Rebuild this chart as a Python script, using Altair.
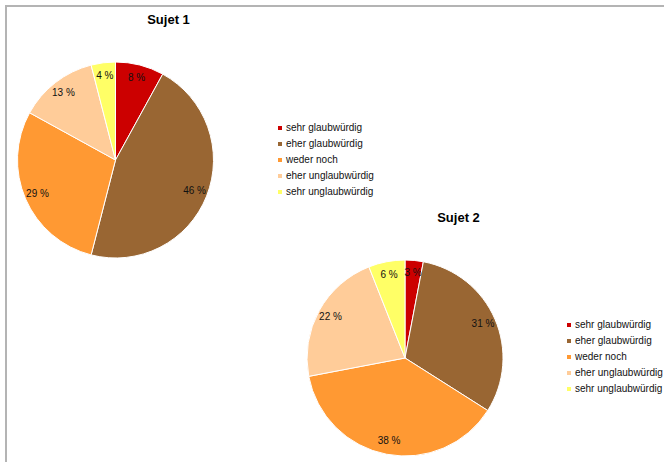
import altair as alt
import pandas as pd

# Survey answers: how credible each subject was judged
categories = ["sehr glaubwürdig", "eher glaubwürdig", "weder noch",
              "eher unglaubwürdig", "sehr unglaubwürdig"]
colors = ["#CC0000", "#996633", "#FF9933", "#FFCC99", "#FFFF66"]
sujet1 = [8, 46, 29, 13, 4]
sujet2 = [3, 31, 38, 22, 6]

rows = []
for name, vals in (("Sujet 1", sujet1), ("Sujet 2", sujet2)):
    for i, (cat, v) in enumerate(zip(categories, vals)):
        rows.append({"sujet": name, "kategorie": cat, "wert": v, "ordnung": i})
df = pd.DataFrame(rows)

FONT = "Liberation Sans"
R = 98          # pie radius
LABEL_R = 85    # radius at which percentage labels sit


def pie(name, cx, cy, lx, ly):
    base = alt.Chart(df).transform_filter(alt.datum.sujet == name)
    arcs = base.mark_arc(stroke="white", strokeWidth=1, radius=R).encode(
        theta=alt.Theta("wert:Q", stack=True),
        order=alt.Order("ordnung:Q"),
        color=alt.Color(
            "kategorie:N",
            scale=alt.Scale(domain=categories, range=colors),
            legend=alt.Legend(
                orient="none", legendX=lx, legendY=ly, title=None,
                symbolType="square", symbolSize=16, symbolStrokeWidth=0,
                labelFont=FONT, labelFontSize=10, labelColor="#111111",
                labelOffset=1, rowPadding=6, padding=0,
            ),
        ),
        x=alt.value(cx),
        y=alt.value(cy),
    )
    labels = base.transform_calculate(
        txt="datum.wert + ' %'"
    ).mark_text(radius=LABEL_R, font=FONT, fontSize=10, color="#111111").encode(
        theta=alt.Theta("wert:Q", stack=True),
        order=alt.Order("ordnung:Q"),
        text="txt:N",
        x=alt.value(cx),
        y=alt.value(cy),
    )
    return arcs, labels


arcs1, labels1 = pie("Sujet 1", 115.5, 160, 275, 123)
arcs2, labels2 = pie("Sujet 2", 405, 358, 564, 320)

title_base = alt.Chart(pd.DataFrame({"t": ["Sujet 1", "Sujet 2"]}))
title1 = title_base.transform_filter(alt.datum.t == "Sujet 1").mark_text(
    font=FONT, fontSize=13, fontWeight="bold", color="black"
).encode(text="t:N", x=alt.value(168.5), y=alt.value(20))
title2 = title_base.transform_filter(alt.datum.t == "Sujet 2").mark_text(
    font=FONT, fontSize=13, fontWeight="bold", color="black"
).encode(text="t:N", x=alt.value(458.5), y=alt.value(218))

# Grey frame along the top and left edges
frame_top = alt.Chart(pd.DataFrame({"a": [0]})).mark_rule(
    color="#b4b4b4", strokeWidth=2
).encode(x=alt.value(5), x2=alt.value(664), y=alt.value(6))
frame_left = alt.Chart(pd.DataFrame({"a": [0]})).mark_rule(
    color="#b4b4b4", strokeWidth=2
).encode(x=alt.value(6), y=alt.value(5), y2=alt.value(462))

chart = alt.layer(
    frame_top, frame_left, arcs1, arcs2, labels1, labels2, title1, title2
).resolve_scale(color="independent").properties(
    width=664, height=462, padding=0, autosize=alt.AutoSizeParams(type="none"),
    background="white",
).configure_view(stroke=None)

chart.save("out.html", embed_options={"renderer": "svg", "actions": False})
